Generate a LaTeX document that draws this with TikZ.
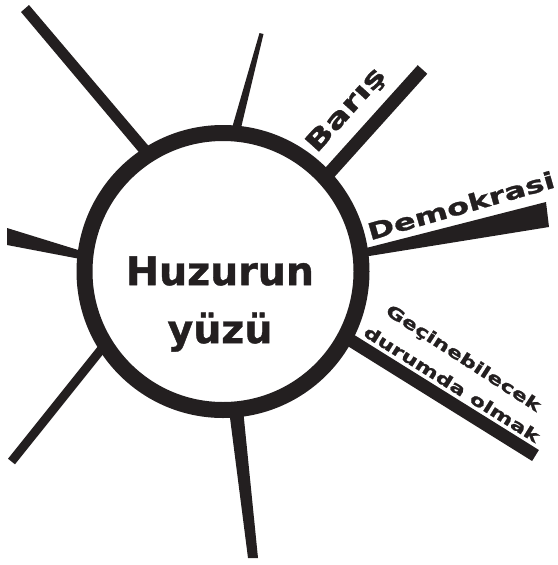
\documentclass[tikz,border=0pt]{standalone}
\usepackage{fontspec}
\usepackage{tikz}
\usetikzlibrary{positioning}
\definecolor{ink}{HTML}{231F20}
\newfontfamily\wideface[FakeStretch=1.4, FakeBold=1.2]{DejaVu Sans}
\newfontfamily\hubface[FakeBold=1]{DejaVu Sans}
\tikzset{
  spoke/.style={fill=ink},
  hub/.style={circle, draw=ink, line width=16pt, fill=white, minimum size=277pt, inner sep=0pt},
  hubtext/.style={text=ink, align=center, inner sep=0pt,
                  font=\hubface\bfseries\fontsize{39.5}{58}\selectfont},
  rim/.style={text=ink, inner sep=0pt, font=\wideface\bfseries\fontsize{#1}{#1}\selectfont},
}

\begin{document}
\begin{tikzpicture}[x=1pt, y=-1pt]
\useasboundingbox (0,0) rectangle (557,565);
% spokes, drawn under the ring
\fill[spoke] (21,12) -- (29,5) -- (152,150) -- (143,157) -- cycle;
\fill[spoke] (259.5,33) -- (263.5,34) -- (241,128) -- (232,128) -- cycle;
\fill[spoke] (417.7,65.2) -- (427.3,73.8) -- (332.3,179.3) -- (322.7,170.7) -- cycle;
\fill[spoke] (360,249.6) -- (546,202) -- (549,227) -- (360,257.5) -- cycle;
\fill[spoke] (349.6,332) -- (538.9,450) -- (532.1,461) -- (342.8,343) -- cycle;
\fill[spoke] (229,410) -- (243,409) -- (258,558) -- (248,558) -- cycle;
\fill[spoke] (107.5,348.7) -- (15,464.3) -- (8,458.7) -- (100.5,343.1) -- cycle;
\fill[spoke] (7,228) -- (85,252.1) -- (85,259.9) -- (7,245) -- cycle;
% ring and title
\node[hub] (hub) at (223,271.5) {};
\node[hubtext] (title) at (220,304) {Huzurun\\yüzü};
% labels along the spokes
\node[rim=26, rotate=48] (baris) at (346.5,110.5) {Barış};
\node[rim=23, rotate=16] (demokrasi) at (461,205.5) {Demokrasi};
\node[rim=16.5, rotate=-33] (gecinme) at (463,359) {Geçinebilecek};
\node[rim=16.5, rotate=-32] (durum) at (452,384) {durumda olmak};
\end{tikzpicture}
\end{document}
